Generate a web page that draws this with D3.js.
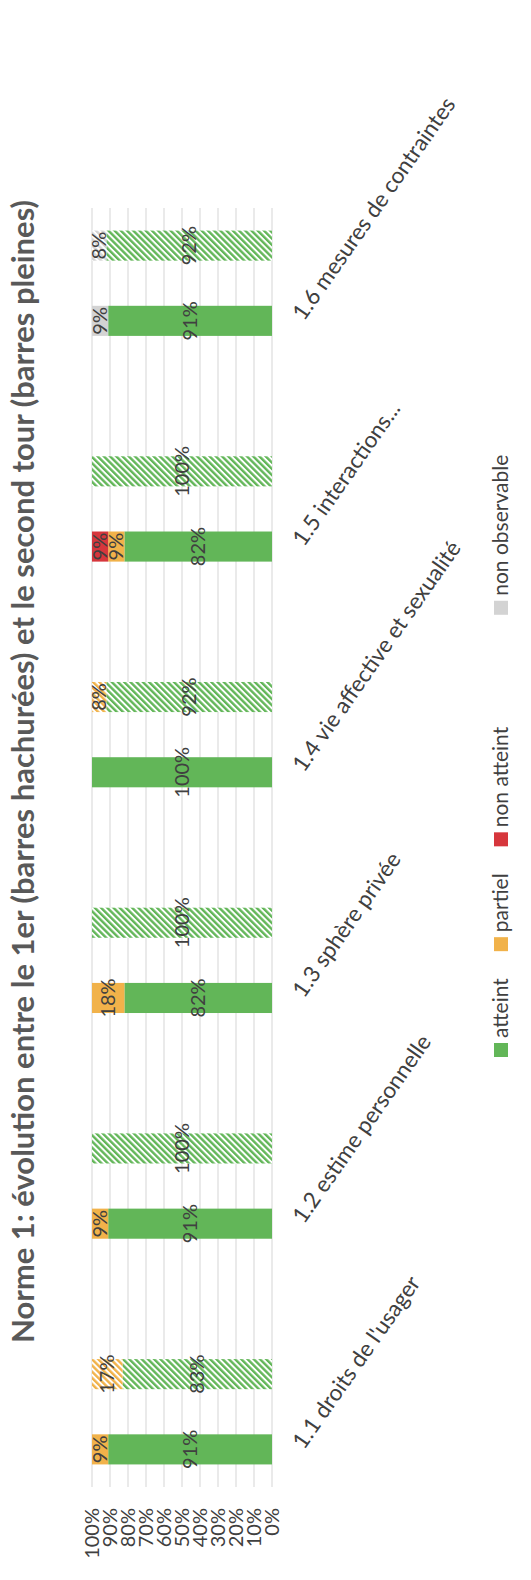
<!DOCTYPE html>
<html>
<head>
<meta charset="utf-8">
<script src="https://cdn.jsdelivr.net/npm/d3@7"></script>
<style>
  html, body { margin: 0; padding: 0; background: #ffffff; }
  svg { display: block; font-family: Lato, "Open Sans", sans-serif; }
</style>
</head>
<body>
<svg id="chart" width="531" height="1580"></svg>
<script>
// Norme 1 : comparaison 1er tour (barres hachurées) / second tour (barres pleines)
const categories = [
  "1.1 droits de l'usager",
  "1.2 estime personnelle",
  "1.3 sphère privée",
  "1.4 vie affective et sexualité",
  "1.5 interactions...",
  "1.6 mesures de contraintes"
];
const seriesNames = ["atteint", "partiel", "non atteint", "non observable"];
const seriesColors = ["#62b658", "#f1b24a", "#d6363c", "#d3d3d3"];

// second tour (barres pleines), en %
const secondAtteint       = [91, 91, 82, 100, 82, 91];
const secondPartiel       = [9, 9, 18, 0, 9, 0];
const secondNonAtteint    = [0, 0, 0, 0, 9, 0];
const secondNonObservable = [0, 0, 0, 0, 0, 9];

// 1er tour (barres hachurées), en %
const firstAtteint       = [83, 100, 100, 92, 100, 92];
const firstPartiel       = [17, 0, 0, 8, 0, 0];
const firstNonAtteint    = [0, 0, 0, 0, 0, 0];
const firstNonObservable = [0, 0, 0, 0, 0, 8];

const tickValues = [0, 10, 20, 30, 40, 50, 60, 70, 80, 90, 100];

const W = 1580, H = 531;
const svg = d3.select("#chart");

// hatch patterns, one per series colour
const defs = svg.append("defs");
seriesColors.forEach((c, i) => {
  const p = defs.append("pattern")
    .attr("id", "hatch" + i)
    .attr("patternUnits", "userSpaceOnUse")
    .attr("width", 4.4).attr("height", 4.4)
    .attr("patternTransform", "rotate(45)");
  p.append("rect").attr("width", 4.4).attr("height", 4.4).attr("fill", "#ffffff");
  p.append("rect").attr("width", 2.4).attr("height", 4.4).attr("fill", c);
});

// the whole chart is laid out landscape and turned a quarter turn
const g = svg.append("g").attr("transform", `translate(0,${W}) rotate(-90)`);

// slots: filled bar, hatched bar, empty gap between categories
const slots = [];
categories.forEach((c, i) => {
  slots.push({ key: i + "-2", cat: i, round: 2 });
  slots.push({ key: i + "-1", cat: i, round: 1 });
  if (i < categories.length - 1) slots.push({ key: i + "-gap", cat: i, round: 0 });
});

const plotLeft = 93, plotRight = 1372;
const x = d3.scaleBand().domain(slots.map(s => s.key))
  .range([plotLeft, plotRight]).paddingInner(0.6).paddingOuter(0.3);
const y = d3.scaleLinear().domain([0, 100]).range([272, 92]);

// gridlines
g.append("g").selectAll("line").data(tickValues).join("line")
  .attr("x1", plotLeft).attr("x2", plotRight)
  .attr("y1", d => y(d)).attr("y2", d => y(d))
  .attr("stroke", "#dcdcdc").attr("stroke-width", 1.2);

// value axis
const axis = g.append("g").attr("transform", `translate(${plotLeft},0)`)
  .call(d3.axisLeft(y).tickValues(tickValues).tickFormat(d => d + "%").tickSize(0).tickPadding(21));
axis.select(".domain").remove();
axis.selectAll("text").attr("font-family", "Lato, sans-serif").attr("font-size", 20).attr("fill", "#404040");

// stacked bars
const secondData = [secondAtteint, secondPartiel, secondNonAtteint, secondNonObservable];
const firstData = [firstAtteint, firstPartiel, firstNonAtteint, firstNonObservable];

const segments = [];
slots.filter(s => s.round > 0).forEach(s => {
  const src = s.round === 2 ? secondData : firstData;
  let acc = 0;
  src.forEach((arr, k) => {
    const v = arr[s.cat];
    if (v > 0) segments.push({ slot: s.key, round: s.round, k, v, y0: acc, y1: acc + v });
    acc += v;
  });
});

g.append("g").selectAll("rect").data(segments).join("rect")
  .attr("x", d => x(d.slot))
  .attr("width", x.bandwidth())
  .attr("y", d => y(d.y1))
  .attr("height", d => y(d.y0) - y(d.y1))
  .attr("fill", d => d.round === 2 ? seriesColors[d.k] : `url(#hatch${d.k})`);

// data labels
g.append("g").selectAll("text").data(segments).join("text")
  .attr("x", d => x(d.slot) + x.bandwidth() / 2)
  .attr("y", d => y((d.y0 + d.y1) / 2))
  .attr("dy", "0.35em")
  .attr("text-anchor", "middle")
  .attr("font-size", 20)
  .attr("fill", "#404040")
  .text(d => d.v + "%");

// category labels, slanted
g.append("g").selectAll("text").data(categories).join("text")
  .attr("transform", (d, i) => `translate(${x(i + "-2") + x.bandwidth() / 2 - 1},304) rotate(35)`)
  .attr("font-size", 22.5)
  .attr("fill", "#404040")
  .text(d => d);

// title
g.append("text")
  .attr("x", 237).attr("y", 34)
  .attr("font-size", 31)
  .attr("font-weight", "bold")
  .attr("fill", "#595959")
  .text("Norme 1: évolution entre le 1er (barres hachurées) et le second tour (barres pleines)");

// legend
const legend = g.append("g");
let lx = 523;
seriesNames.forEach((name, i) => {
  const item = legend.append("g").attr("transform", `translate(${lx},0)`);
  item.append("rect").attr("x", 0).attr("y", 494).attr("width", 14).attr("height", 14).attr("fill", seriesColors[i]);
  const t = item.append("text").attr("x", 19).attr("y", 508)
    .attr("font-size", 21).attr("fill", "#404040").text(name);
  const w = t.node().getComputedTextLength();
  lx += 19 + w + (i === 2 ? 112 : 27);
});
</script>
</body>
</html>
